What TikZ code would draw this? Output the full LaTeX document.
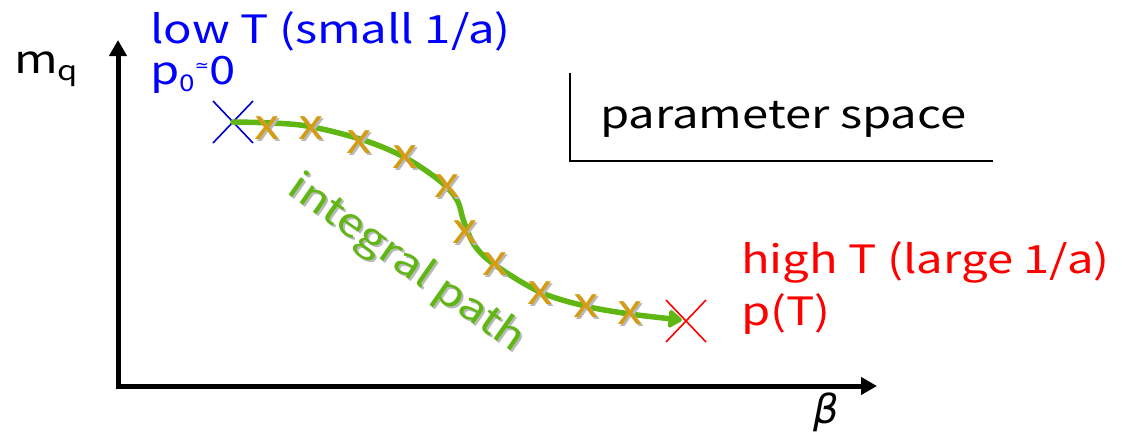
\documentclass[tikz,border=0pt]{standalone}
\usepackage{fontspec}
\setmainfont[FakeStretch=1.21]{Noto Sans CJK JP}
\newfontfamily\symfont{DejaVu Sans}
\usetikzlibrary{arrows.meta,calc}
\definecolor{pathgreen}{RGB}{96,182,18}
\definecolor{markgold}{RGB}{212,156,18}
\definecolor{shade}{RGB}{185,185,185}
\definecolor{lowblue}{RGB}{0,0,255}
\definecolor{highred}{RGB}{255,0,0}
\tikzset{
  lbl/.style={inner sep=0pt, anchor=base west, font=\fontsize{39}{44}\selectfont},
  axisline/.style={line width=5pt, line join=miter, black},
  frameline/.style={line width=1.4pt, black},
  endcross/.style={line width=1.6pt},
  pathline/.style={line width=5.5pt, pathgreen, line cap=round,
    -{Triangle[length=15pt, width=20pt, round]}},
  stepmark/.pic={
    \node[inner sep=0pt, text=shade, font=\fontsize{42}{42}\selectfont] at (2,2) {x};
    \node[inner sep=0pt, text=markgold, font=\fontsize{42}{42}\selectfont] {x};
  }
}
\begin{document}
\begin{tikzpicture}[x=1pt, y=-1pt]
\path[use as bounding box] (0,0) rectangle (1122,437);

% axes
\coordinate (O) at (118,386);
\coordinate (ytop) at (118,40);
\coordinate (xend) at (877,386);
\draw[axisline, {Triangle[length=16pt, width=17pt]}-{Triangle[length=16pt, width=17pt]}]
  (ytop) -- (O) -- (xend);
\node[lbl, anchor=base west] (mq) at (14,73)
  {m\raisebox{-7pt}{\fontsize{27}{27}\selectfont q}};
\node[inner sep=0pt, font=\symfont\fontsize{40}{40}\selectfont\itshape] (beta) at (826,412) {β};

% parameter-space corner
\coordinate (fr1) at (570,73);
\coordinate (fr2) at (570,161);
\coordinate (fr3) at (993,161);
\draw[frameline] (fr1) -- (fr2) -- (fr3);
\node[lbl] (ps) at (600,128) {parameter space};

% end points
\coordinate (lowT) at (233,122);
\coordinate (highT) at (686,321);
\draw[endcross, lowblue!80!black] ($(lowT)+(-20,-21)$) -- ($(lowT)+(20,21)$)
  ($(lowT)+(-20,21)$) -- ($(lowT)+(20,-21)$);
\draw[endcross, highred] ($(highT)+(-20,-21)$) -- ($(highT)+(20,21)$)
  ($(highT)+(-20,21)$) -- ($(highT)+(20,-21)$);

% integral path
\draw[pathline] plot[smooth, tension=0.55] coordinates
  {(lowT) (300,125) (360,139) (404,157) (440,181) (457,200) (464,222)
   (475,246) (495,265) (540,292) (585,306) (630,314) (682,320)};

% sample points along the path
\foreach \p in {(267,128),(311,128),(359,142),(405,157),(447,186),(465,232),(495,264),(540,293),(586,306),(630,313)}
  \pic at \p {stepmark};

\node[inner sep=0pt, text=shade, rotate=-35, font=\fontsize{39}{44}\selectfont] at (408,266) {integral path};
\node[inner sep=0pt, text=pathgreen, rotate=-35, font=\fontsize{39}{44}\selectfont] (ipath) at (406,264) {integral path};

% labels
\node[lbl, text=lowblue] (lowlbl) at (150,43) {low T (small 1/a)};
\node[lbl, text=lowblue] (p0lbl) at (150,84)
  {p\raisebox{-7pt}{\fontsize{23}{23}\selectfont 0}\raisebox{13pt}{\symfont\fontsize{17}{17}\selectfont ≃}0};
\node[lbl, text=highred] (highlbl) at (741,273) {high T (large 1/a)};
\node[lbl, text=highred] (pTlbl) at (741,325) {p(T)};
\end{tikzpicture}
\end{document}
